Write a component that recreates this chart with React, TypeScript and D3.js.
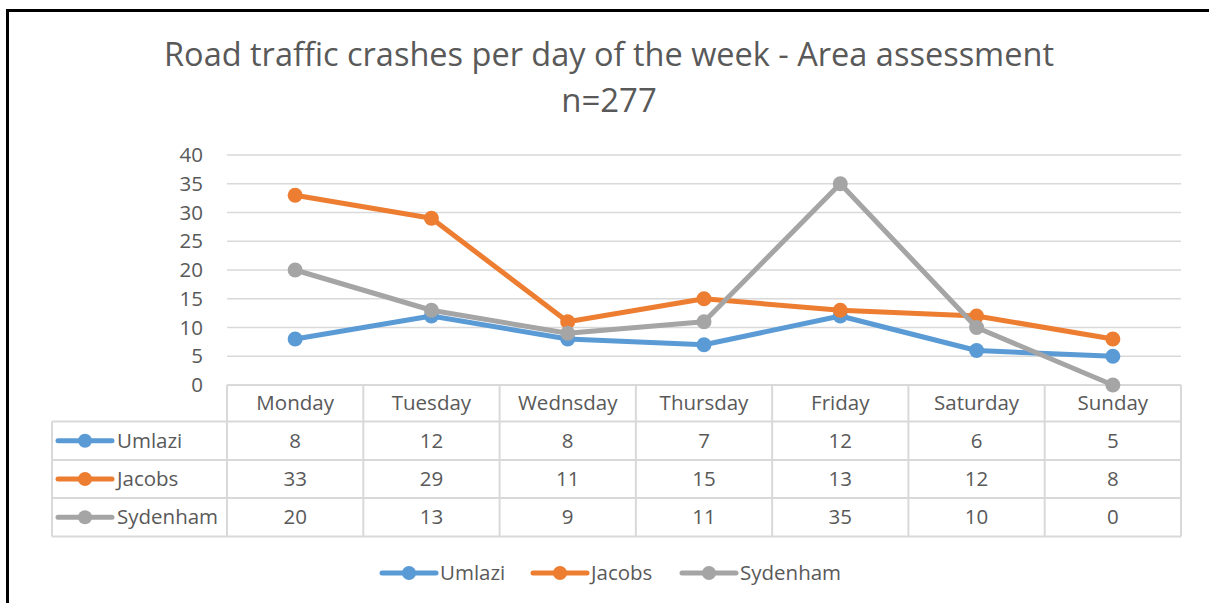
import React from "react";
import * as d3 from "d3";

const days = ["Monday", "Tuesday", "Wednsday", "Thursday", "Friday", "Saturday", "Sunday"];
const seriesNames = ["Umlazi", "Jacobs", "Sydenham"];
const umlazi = [8, 12, 8, 7, 12, 6, 5];
const jacobs = [33, 29, 11, 15, 13, 12, 8];
const sydenham = [20, 13, 9, 11, 35, 10, 0];
const yTicks = [0, 5, 10, 15, 20, 25, 30, 35, 40];
const colors = ["#5B9BD5", "#ED7D31", "#A5A5A5"];

const W = 1209;
const H = 603;
const FONT = "'Open Sans', 'Noto Sans', sans-serif";
const TXT = "#595959";

export default function App() {
  const data = [umlazi, jacobs, sydenham];
  const left = 227;
  const right = 1181;
  const x = d3.scaleBand<string>().domain(days).range([left, right]);
  const y = d3.scaleLinear().domain([0, 40]).range([385, 155]);
  const line = d3
    .line<number>()
    .x((_, i) => (x(days[i]) as number) + x.bandwidth() / 2)
    .y((d) => y(d));

  const tableLeft = 52;
  const rowLines = [385, 421.5, 460, 498, 536.5];
  const fs = 20.5;

  const legendItems = [
    { x: 382, name: seriesNames[0], c: colors[0] },
    { x: 533, name: seriesNames[1], c: colors[1] },
    { x: 682, name: seriesNames[2], c: colors[2] },
  ];

  return (
    <svg
      width={W}
      height={H}
      style={{ position: "absolute", left: 0, top: 0, background: "#fff" }}
      fontFamily={FONT}
    >
      <rect x={0} y={0} width={W} height={H} fill="#fff" />
      <path d={`M7.5,${H} V10.5 H${W + 5}`} fill="none" stroke="#000" strokeWidth={3} />
      <text x={609} y={66} textAnchor="middle" fontSize={32.5} fill={TXT}>
        Road traffic crashes per day of the week - Area assessment
      </text>
      <text x={609} y={112} textAnchor="middle" fontSize={33} fill={TXT}>
        n=277
      </text>

      {yTicks.map((t) => (
        <g key={t}>
          {t > 0 && (
            <line x1={left} x2={right} y1={y(t)} y2={y(t)} stroke="#D9D9D9" strokeWidth={1.5} />
          )}
          <text x={203} y={y(t)} dy="0.35em" textAnchor="end" fontSize={fs} fill={TXT}>
            {t}
          </text>
        </g>
      ))}

      {/* data table grid */}
      <g stroke="#D9D9D9" strokeWidth={2} fill="none">
        <line x1={left} x2={right} y1={rowLines[0]} y2={rowLines[0]} />
        {rowLines.slice(1).map((r) => (
          <line key={r} x1={tableLeft} x2={right} y1={r} y2={r} />
        ))}
        <line x1={tableLeft} x2={tableLeft} y1={rowLines[1]} y2={rowLines[4]} />
        {days.map((d) => (
          <line key={d} x1={x(d)} x2={x(d)} y1={rowLines[0]} y2={rowLines[4]} />
        ))}
        <line x1={right} x2={right} y1={rowLines[0]} y2={rowLines[4]} />
      </g>
      {days.map((d) => (
        <text
          key={d}
          x={(x(d) as number) + x.bandwidth() / 2}
          y={(rowLines[0] + rowLines[1]) / 2}
          dy="0.35em"
          textAnchor="middle"
          fontSize={fs}
          fill={TXT}
        >
          {d}
        </text>
      ))}
      {data.map((vals, si) => {
        const cy = (rowLines[si + 1] + rowLines[si + 2]) / 2;
        return (
          <g key={si}>
            <line x1={58} x2={112} y1={cy} y2={cy} stroke={colors[si]} strokeWidth={5} strokeLinecap="round" />
            <circle cx={85} cy={cy} r={7} fill={colors[si]} />
            <text x={117} y={cy} dy="0.35em" fontSize={fs} fill={TXT}>
              {seriesNames[si]}
            </text>
            {vals.map((v, i) => (
              <text
                key={i}
                x={(x(days[i]) as number) + x.bandwidth() / 2}
                y={cy}
                dy="0.35em"
                textAnchor="middle"
                fontSize={fs}
                fill={TXT}
              >
                {v}
              </text>
            ))}
          </g>
        );
      })}

      {/* series lines */}
      {data.map((vals, si) => (
        <g key={si}>
          <path d={line(vals) || ""} fill="none" stroke={colors[si]} strokeWidth={5} strokeLinejoin="round" strokeLinecap="round" />
          {vals.map((v, i) => (
            <circle
              key={i}
              cx={(x(days[i]) as number) + x.bandwidth() / 2}
              cy={y(v)}
              r={7.5}
              fill={colors[si]}
            />
          ))}
        </g>
      ))}

      {/* legend */}
      {legendItems.map((it) => (
        <g key={it.name}>
          <line x1={it.x} x2={it.x + 54} y1={573} y2={573} stroke={it.c} strokeWidth={5} strokeLinecap="round" />
          <circle cx={it.x + 27} cy={573} r={7} fill={it.c} />
          <text x={it.x + 58} y={573} dy="0.35em" fontSize={fs} fill={TXT}>
            {it.name}
          </text>
        </g>
      ))}
    </svg>
  );
}
